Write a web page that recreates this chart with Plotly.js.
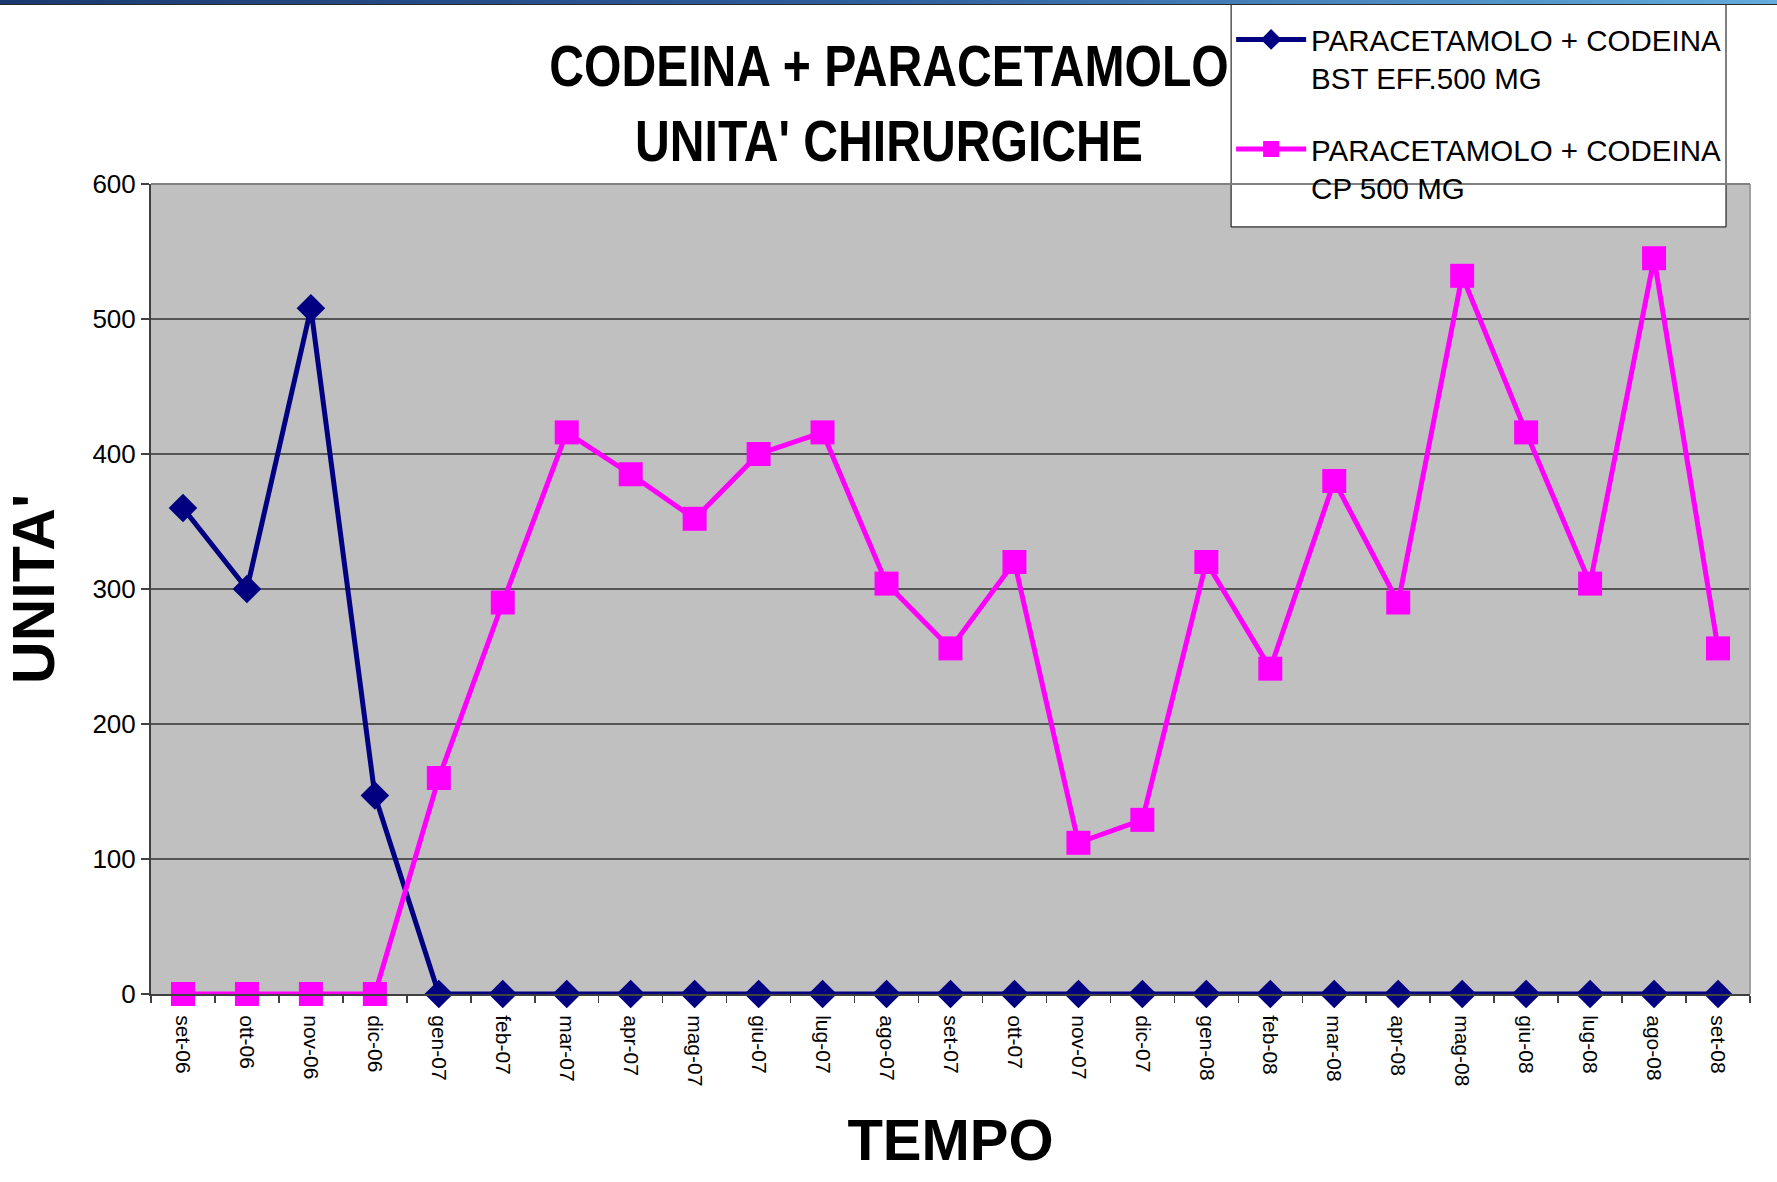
<!DOCTYPE html>
<html><head><meta charset="utf-8">
<script src="https://cdn.plot.ly/plotly-3.0.1.min.js"></script>
<style>
html,body{margin:0;padding:0;background:#fff;}
#chart{width:1777px;height:1182px;}
#topbar{position:absolute;left:0;top:0;width:1777px;height:4px;background:linear-gradient(to right,#1b3970,#2f5f9e 50%,#63acdc);border-bottom:1px solid #2a2a2a;z-index:10;}
#chart text.gtitle{transform-box:fill-box;transform-origin:center;transform:scaleX(0.83);}
</style></head><body>
<div id="topbar"></div>
<div id="chart"></div>
<script>
const months = ['set-06','ott-06','nov-06','dic-06','gen-07','feb-07','mar-07','apr-07','mag-07','giu-07','lug-07','ago-07','set-07','ott-07','nov-07','dic-07','gen-08','feb-08','mar-08','apr-08','mag-08','giu-08','lug-08','ago-08','set-08'];
const bstEff = [360,300,508,147,0,0,0,0,0,0,0,0,0,0,0,0,0,0,0,0,0,0,0,0,0];
const cp500 = [0,0,0,0,160,290,416,385,352,400,416,304,256,320,112,129,320,241,380,290,532,416,304,545,256];
const seriesNames = ['PARACETAMOLO + CODEINA<br>BST EFF.500 MG','PARACETAMOLO + CODEINA<br>CP 500 MG'];
const yTicks = [0,100,200,300,400,500,600];

const traces = [
  {x: months, y: bstEff, name: seriesNames[0], type:'scatter', mode:'lines+markers',
   legendgroup:'a', cliponaxis:false,
   line:{color:'#000080', width:5}, marker:{symbol:'diamond', size:22, color:'#000080'}},
  {x: months, y: cp500, name: seriesNames[1], type:'scatter', mode:'lines+markers',
   legendgroup:'b', cliponaxis:false,
   line:{color:'#ff00ff', width:5}, marker:{symbol:'square', size:24, color:'#ff00ff'}}
];

const layout = {
  width:1777, height:1182,
  margin:{l:151, r:27, t:184, b:188, autoexpand:false},
  paper_bgcolor:'#ffffff', plot_bgcolor:'#c0c0c0',
  font:{family:'Liberation Sans, Arial, sans-serif', color:'#000'},
  title:{text:"CODEINA + PARACETAMOLO<br>UNITA' CHIRURGICHE",
         font:{family:'Liberation Sans, Arial', size:58, weight:'bold', color:'#000'},
         x:889/1777, xref:'container', xanchor:'center', y:1-86/1182, yref:'container', yanchor:'middle'},
  showlegend:true,
  legend:{x:0.6755, y:1.2275-14/810, xanchor:'left', yanchor:'top', bgcolor:'rgba(0,0,0,0)',
          borderwidth:0, traceorder:'grouped', tracegroupgap:30,
          valign:'top', itemwidth:70,
          font:{family:'Liberation Sans, Arial', size:29.5, color:'#000'}},
  xaxis:{type:'category', tickson:'boundaries', ticks:'outside', ticklen:7, tickwidth:1.5, tickcolor:'#404040',
         tickangle:90, tickfont:{size:21, color:'#000'}, ticklabelstandoff:15,
         showline:true, linecolor:'#404040', linewidth:2, showgrid:false, zeroline:false, automargin:false,
         range:[-0.5, months.length-0.5],
         title:{text:'TEMPO', font:{size:58, weight:'bold', color:'#000'}, standoff:34}},
  yaxis:{range:[0,600], tickvals:yTicks, ticks:'outside', ticklen:8, tickwidth:1.5, tickcolor:'#404040',
         tickfont:{size:26, color:'#000'}, showline:true, linecolor:'#404040', linewidth:2, automargin:false,
         showgrid:true, gridcolor:'#555555', gridwidth:2, zeroline:false,
         title:{text:"UNITA'", font:{size:59, weight:'bold', color:'#000'}, standoff:19}},
  shapes:[
    {type:'rect', xref:'paper', yref:'paper', x0:0.6755, x1:0.985, y0:0.947, y1:1.2275, layer:'above',
     fillcolor:'#ffffff', line:{color:'#000000', width:1}},
    {type:'line', xref:'paper', yref:'paper', x0:1, x1:1, y0:0, y1:1, line:{color:'#a0a0a0', width:2}},
    {type:'line', xref:'paper', yref:'paper', x0:0, x1:1, y0:1, y1:1, line:{color:'#808080', width:2}}
  ]
};

Plotly.newPlot('chart', traces, layout, {displayModeBar:false, staticPlot:true});
</script>
</body></html>
